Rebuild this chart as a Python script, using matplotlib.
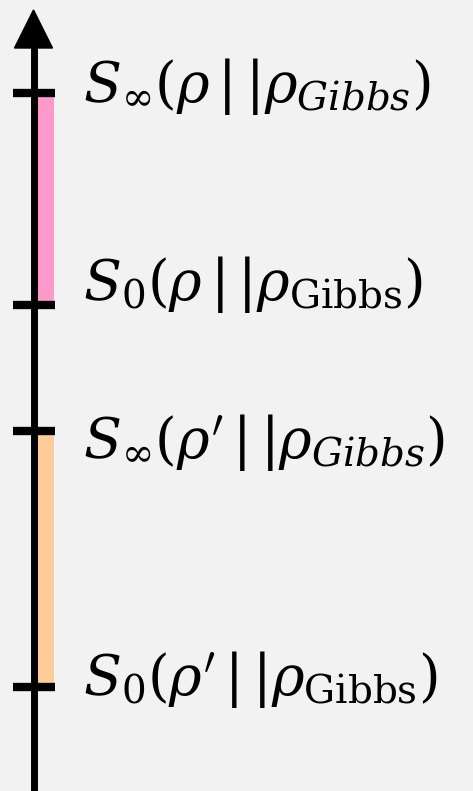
import matplotlib
matplotlib.use("Agg")
import matplotlib.pyplot as plt
from matplotlib.patches import Polygon

# entropy levels on the vertical axis (arbitrary units)
levels = [6.985, 4.86, 3.60, 1.045]
labels = [
    r"$S_{\infty}(\rho\,|\,|\rho_{Gibbs})$",
    r"$S_{0}(\rho\,|\,|\rho_{\mathrm{Gibbs}})$",
    r"$S_{\infty}(\rho'\,|\,|\rho_{Gibbs})$",
    r"$S_{0}(\rho'\,|\,|\rho_{\mathrm{Gibbs}})$",
]
# baseline of each label relative to its tick (points)
label_dy = [-6.8, 3.6, -19.4, -6.1]

# shaded intervals: (top, bottom, colour)
intervals = [
    (levels[0], levels[1], "#ff99cc"),
    (levels[2], levels[3], "#ffcc99"),
]

plt.rcParams["mathtext.fontset"] = "dejavuserif"
bg = "#f2f2f2"

fig = plt.figure(figsize=(4.73, 7.91), dpi=100, facecolor=bg)
ax = fig.add_axes([0, 0, 1, 1])
ax.set_facecolor(bg)
ax.set_xlim(0, 473)
ax.set_ylim(0, 7.91)
ax.axis("off")

axis_x = 33.5

# bars between the levels
for top, bottom, color in intervals:
    ax.bar(46, top - bottom, bottom=bottom, width=16, color=color, zorder=1)

# main axis with arrow head
ax.plot([axis_x, axis_x], [0, 7.45], color="black", lw=5.0,
        solid_capstyle="butt", zorder=3)
head = Polygon([[axis_x, 7.81], [axis_x - 19, 7.43], [axis_x + 19, 7.43]],
               closed=True, color="black", zorder=3)
ax.add_patch(head)

# tick marks
ax.hlines(levels, 13, 55, color="black", lw=6, zorder=2)

# labels
for y, text, dy in zip(levels, labels, label_dy):
    ax.annotate(text, xy=(83, y), xytext=(0, dy), textcoords="offset points",
                fontsize=40, va="baseline", ha="left", color="black")

fig.savefig("out.png", dpi=100, facecolor=bg)
